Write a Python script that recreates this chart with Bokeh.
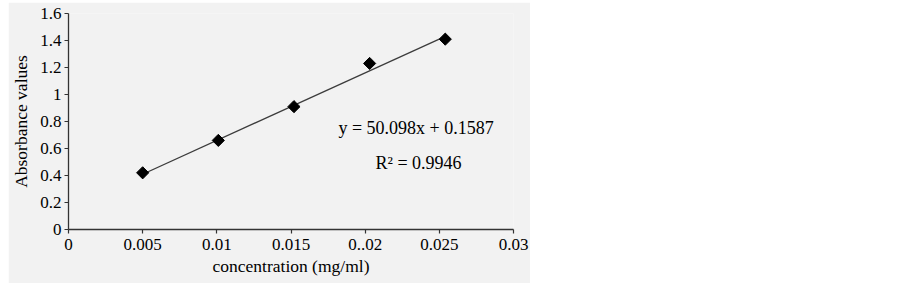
import numpy as np
from bokeh.plotting import figure
from bokeh.models import FixedTicker, Label
from bokeh.embed import file_html
from bokeh.resources import INLINE

# Data
concentration = [0.0050, 0.0101, 0.0152, 0.0203, 0.0254]
absorbance = [0.42, 0.66, 0.91, 1.23, 1.41]
slope = 50.098
intercept = 0.1587
equation_text = "y = 50.098x + 0.1587"
r2_text = "R\u00b2 = 0.9946"

x_ticks = [0, 0.005, 0.01, 0.015, 0.02, 0.025, 0.03]
x_tick_labels = ["0", "0.005", "0.01", "0.015", "0..02", "0.025", "0.03"]
y_ticks = [0, 0.2, 0.4, 0.6, 0.8, 1.0, 1.2, 1.4, 1.6]
y_tick_labels = ["0", "0.2", "0.4", "0.6", "0.8", "1", "1.2", "1.4", "1.6"]

BG = "#f2f2f2"
FONT = "Liberation Serif"
AX = "#333333"

p = figure(width=522, height=281, x_range=(0, 0.03), y_range=(0, 1.6),
           output_backend="svg", toolbar_location=None,
           background_fill_color=BG, border_fill_color=BG,
           min_border_left=60, min_border_right=17, min_border_top=11,
           min_border_bottom=54, margin=(2, 0, 0, 8))
p.outline_line_color = None
p.grid.visible = False

# trend line over the data span
lx = [min(concentration), max(concentration)]
ly = [slope * v + intercept for v in lx]
p.line(lx, ly, line_color="#3c3c3c", line_width=1.3)

p.scatter(concentration, absorbance, marker="square", angle=np.pi / 4,
          size=8.6, fill_color="black", line_color="black")

for ax in (p.xaxis[0], p.yaxis[0]):
    ax.axis_line_color = AX
    ax.axis_line_width = 1.3
    ax.major_tick_line_color = AX
    ax.major_tick_line_width = 1.2
    ax.major_tick_in = 0
    ax.major_tick_out = 4
    ax.minor_tick_line_color = None
    ax.major_label_text_font = FONT
    ax.major_label_text_font_size = "17px"
    ax.major_label_text_color = "black"
    ax.axis_label_text_font = FONT
    ax.axis_label_text_font_size = "17.5px"
    ax.axis_label_text_font_style = "normal"
    ax.axis_label_text_color = "black"

p.xaxis.ticker = FixedTicker(ticks=x_ticks)
p.xaxis.major_label_overrides = {t: l for t, l in zip(x_ticks, x_tick_labels)}
p.yaxis.ticker = FixedTicker(ticks=y_ticks)
p.yaxis.major_label_overrides = {t: l for t, l in zip(y_ticks, y_tick_labels)}
p.xaxis.axis_label = "concentration (mg/ml)"
p.yaxis.axis_label = "Absorbance values"
p.xaxis.major_label_standoff = 5
p.xaxis.axis_label_standoff = 3
p.yaxis.major_label_standoff = 3
p.yaxis.axis_label_standoff = 6

p.add_layout(Label(x=0.0182, y=0.75, text=equation_text, text_font=FONT,
                   text_font_size="18px", text_baseline="middle",
                   text_align="left", text_color="black"))
p.add_layout(Label(x=0.0207, y=0.49, text=r2_text, text_font=FONT,
                   text_font_size="18px", text_baseline="middle",
                   text_align="left", text_color="black"))

open("out.html", "w").write(file_html(p, INLINE))
